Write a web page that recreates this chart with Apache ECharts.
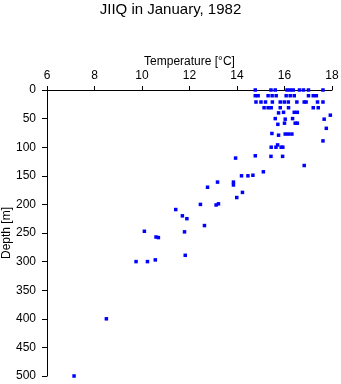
<!DOCTYPE html>
<html><head><meta charset="utf-8">
<script src="https://cdn.jsdelivr.net/npm/echarts@6/dist/echarts.min.js"></script>
<style>html,body{margin:0;padding:0;background:#fff}#c{width:341px;height:384px}</style>
</head><body><div id="c"></div>
<script>
const titleText = "JIIQ in January, 1982";
const xName = "Temperature [°C]";
const yName = "Depth [m]";
const temperature = [
  14.77,15.43,15.61,16.11,16.24,16.37,16.63,16.80,17.01,17.62,
  14.77,14.89,15.31,15.48,15.65,16.07,16.24,16.41,17.01,17.21,17.34,
  14.80,15.01,15.20,15.49,15.82,15.99,16.16,16.52,16.83,16.91,17.39,17.62,
  15.14,15.31,15.44,15.82,16.17,17.21,17.42,
  15.75,15.96,16.41,16.54,
  17.93,
  15.61,16.03,16.34,17.67,
  15.72,16.00,16.45,16.54,
  17.76,
  15.47,15.75,16.03,16.16,16.31,
  17.62,
  15.44,15.64,15.86,15.93,15.71,
  14.77,15.43,15.92,
  13.94,
  16.83,
  15.11,
  14.19,14.46,14.67,
  13.18,13.85,13.85,
  12.76,
  14.23,
  13.99,
  12.46,13.12,13.22,
  11.42,11.70,11.89,
  12.63,
  10.10,11.79,
  10.59,10.69,
  11.82,
  9.75,10.23,10.56,
  8.50,
  7.14
];
const depth = [
  0,0,0,0,0,0,0,0,0,0,
  10,10,10,10,10,10,10,10,10,10,10,
  21,21,21,21,21,21,21,21,21,21,21,21,
  31,31,31,31,31,31,31,
  40,39,39,39,
  44,
  50,51,50,51,
  60,58,58,58,
  67,
  76,79,77,77,77,
  89,
  100,100,100,100,96,
  115,116,116,
  119,
  132,
  143,
  150,150,149,
  161,161,166,
  170,
  179,
  188,
  200,201,199,
  209,220,225,
  237,
  247,248,
  257,258,
  289,
  300,300,297,
  400,
  500
];
const xTicks = {min: 6, max: 18, interval: 2};
const yTicks = {min: 0, max: 500, interval: 50};

const points = temperature.map((t, i) => [t, depth[i]]);
const font = "'Liberation Sans', Arial, sans-serif";
const chart = echarts.init(document.getElementById('c'), null, {renderer: 'canvas'});
chart.setOption({
  animation: false,
  backgroundColor: '#fff',
  title: {text: titleText, left: 'center', top: 2, padding: 0,
    textStyle: {fontFamily: font, fontSize: 15, fontWeight: 'normal', color: '#000'}},
  grid: {left: 47, top: 90, right: 9, bottom: 8, containLabel: false, outerBoundsMode: 'none'},
  xAxis: {
    type: 'value', position: 'top', min: xTicks.min, max: xTicks.max, interval: xTicks.interval,
    name: xName, nameLocation: 'middle', nameGap: 22, nameMoveOverlap: false,
    nameTextStyle: {fontFamily: font, fontSize: 12, color: '#000'},
    axisLine: {show: true, onZero: false, lineStyle: {color: '#000', width: 1}},
    axisTick: {show: true, length: 4, lineStyle: {color: '#000'}},
    axisLabel: {fontFamily: font, fontSize: 12, color: '#000', margin: 8},
    splitLine: {show: false}
  },
  yAxis: {
    type: 'value', inverse: true, min: yTicks.min, max: yTicks.max, interval: yTicks.interval,
    name: yName, nameLocation: 'middle', nameGap: 34, nameMoveOverlap: false,
    nameTextStyle: {fontFamily: font, fontSize: 12, color: '#000'},
    axisLine: {show: true, onZero: false, lineStyle: {color: '#000', width: 1}},
    axisTick: {show: true, length: 5, lineStyle: {color: '#000'}},
    axisLabel: {fontFamily: font, fontSize: 12, color: '#000', margin: 11},
    splitLine: {show: false}
  },
  series: [{
    type: 'scatter', data: points, symbol: 'rect', symbolSize: 3.5,
    itemStyle: {color: '#0000ff', opacity: 1}
  }]
});
</script></body></html>
